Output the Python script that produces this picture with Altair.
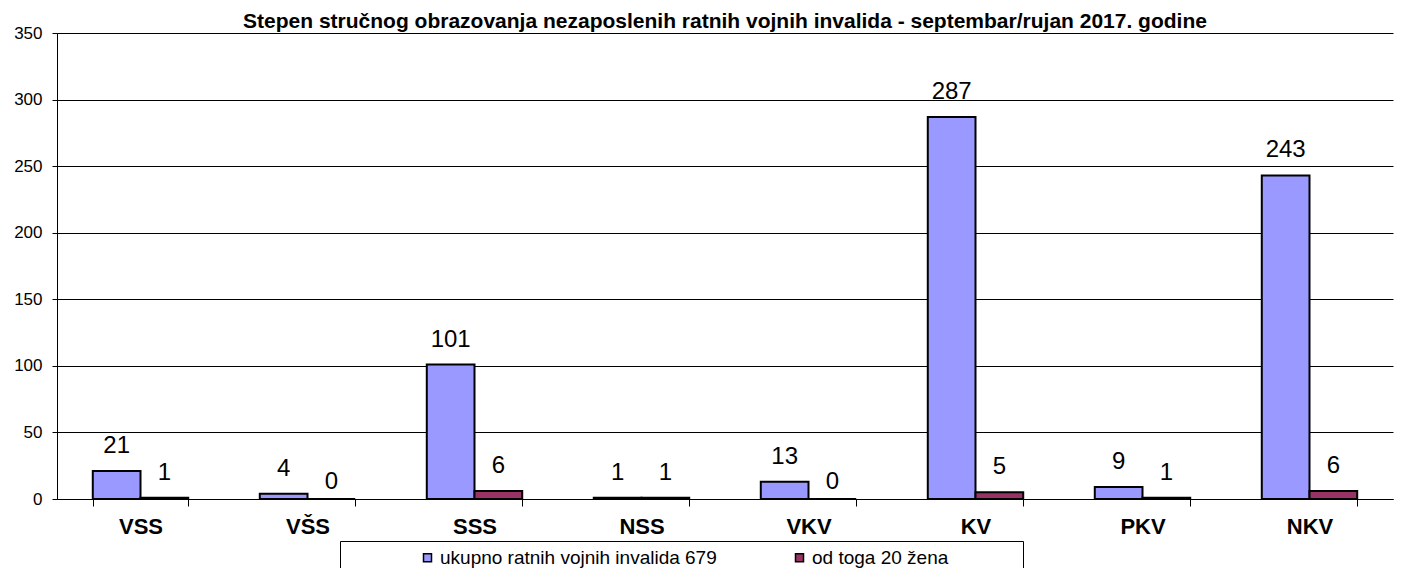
import altair as alt
import pandas as pd

categories = ["VSS", "VŠS", "SSS", "NSS", "VKV", "KV", "PKV", "NKV"]
ukupno = [21, 4, 101, 1, 13, 287, 9, 243]
zene = [1, 0, 6, 1, 0, 5, 1, 6]
series = ["ukupno ratnih vojnih invalida 679", "od toga 20 žena"]
colors = ["#9999FF", "#993366"]
title_text = "Stepen stručnog obrazovanja nezaposlenih ratnih vojnih invalida - septembar/rujan  2017. godine"
y_ticks = [0, 50, 100, 150, 200, 250, 300, 350]

rows = []
for i, c in enumerate(categories):
    rows.append({"kat": c, "serija": series[0], "vrijednost": ukupno[i]})
    rows.append({"kat": c, "serija": series[1], "vrijednost": zene[i]})
df = pd.DataFrame(rows)

FONT = "Liberation Sans, Arial, sans-serif"
W, H = 1336, 466

x = alt.X(
    "kat:N", sort=categories, title=None,
    scale=alt.Scale(paddingInner=0.4286, paddingOuter=0.2143),
    axis=alt.Axis(labelFont=FONT, labelFontSize=22, labelFontWeight="bold",
                  labelColor="black", labelAngle=0, labelPadding=10, tickSize=7,
                  tickColor="black", domainColor="black", tickBand="extent",
                  grid=False),
)
xo = alt.XOffset("serija:N", sort=series, scale=alt.Scale(paddingInner=0, paddingOuter=0))
y = alt.Y(
    "vrijednost:Q", scale=alt.Scale(domain=[0, 350], nice=False),
    axis=alt.Axis(values=y_ticks, title=None, labelFont=FONT, labelFontSize=17,
                  labelColor="black", tickSize=5, tickColor="black",
                  domainColor="black", gridColor="black", labelPadding=10, grid=True),
)
color = alt.Color(
    "serija:N", sort=series, scale=alt.Scale(domain=series, range=colors),
    legend=alt.Legend(
        orient="none", legendX=283, legendY=508, direction="horizontal",
        title="\u00a0", titleOrient="right", titlePadding=68, titleFontSize=10,
        padding=7, strokeColor="black", fillColor="white",
        symbolType="square", symbolSize=64, symbolStrokeColor="black",
        symbolStrokeWidth=1.5, symbolOffset=71, labelOffset=3, columnPadding=2,
        labelFont=FONT, labelFontSize=19, labelColor="black", labelLimit=500,
    ),
)

base = alt.Chart(df)
bars = base.mark_bar(stroke="black", strokeWidth=2).encode(x=x, xOffset=xo, y=y, color=color)
lab_nz = base.transform_filter("datum.vrijednost > 0").mark_text(
    dy=-25, baseline="middle", fontSize=24, font=FONT, color="black"
).encode(x=x, xOffset=xo, y=y, text="vrijednost:Q")
lab_z = base.transform_filter("datum.vrijednost == 0").mark_text(
    dy=-17, baseline="middle", fontSize=24, font=FONT, color="black"
).encode(x=x, xOffset=xo, y=y, text="vrijednost:Q")
title = alt.Chart(pd.DataFrame({"t": [title_text]})).mark_text(
    fontSize=21, fontWeight="bold", font=FONT, color="black",
    align="center", baseline="alphabetic"
).encode(text="t:N", x=alt.value(668), y=alt.value(-5.5))

chart = alt.layer(bars, lab_nz, lab_z, title).properties(
    width=W, height=H,
    autosize=alt.AutoSizeParams(type="none"),
    padding={"left": 49, "top": 25, "right": 1, "bottom": 69},
).configure_view(strokeWidth=0)

chart.save("out.html", embed_options={"renderer": "svg", "actions": False})
